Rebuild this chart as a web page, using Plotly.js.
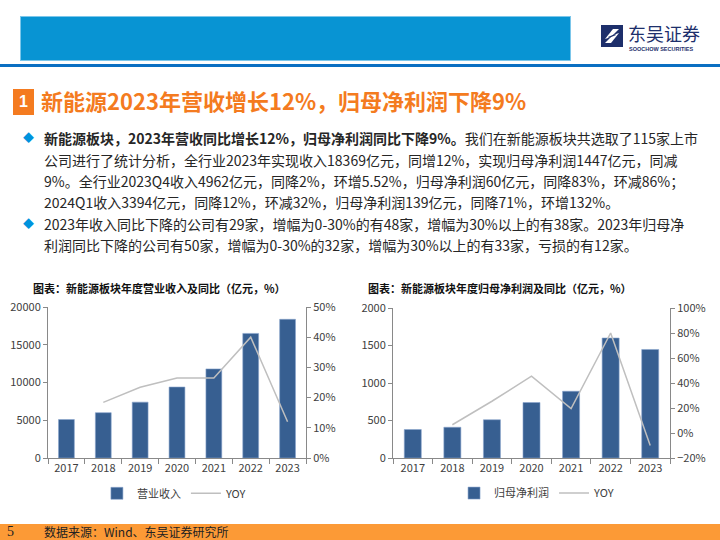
<!DOCTYPE html>
<html>
<head>
<meta charset="utf-8">
<script src="https://cdn.plot.ly/plotly-3.0.1.min.js"></script>
<style>
  body { margin: 0; width: 720px; height: 540px; overflow: hidden; background: #fff;
         position: relative; font-family: 'Noto Sans CJK SC', sans-serif; }
  .abs { position: absolute; }
  #topbar { left: 20px; top: 16px; width: 551px; height: 45px; background: #0894d3;
            border: 1px solid #7cc6ea; box-sizing: border-box; }
  #rule { left: 0; top: 64px; width: 720px; height: 3px; background: #0a6fc2; }
  #logo-cn { left: 628px; top: 24px; font-size: 18px; line-height: 18px; height: 18px; color: #1d2f6b; }
  #logo-en { left: 629px; top: 46px; font-size: 5.5px; line-height: 6px; font-weight: 700; color: #1d2f6b; font-family: 'Liberation Sans', sans-serif; }
  #num-box { left: 13px; top: 89px; width: 21px; height: 26px; background: #f47b20; color: #fff;
             font-weight: 700; font-size: 16px; text-align: center; line-height: 26px; font-family: 'Liberation Sans', sans-serif; }
  #headline { left: 41px; top: 84px; font-size: 22px; font-weight: 700; color: #f47b20; white-space: nowrap; }
  .line { left: 44px; font-size: 14px; color: #262626; white-space: nowrap; line-height: 20px; }
  .dia { left: 23px; font-size: 11px; color: #0093dd; line-height: 20px; }
  #footer { left: 0; top: 524px; width: 720px; height: 16px; background: #fc9a36; }
  #page-no { left: 7px; top: 524px; font-size: 14px; font-family: 'Liberation Serif', serif; color: #222; line-height: 16px; }
  #source { left: 44px; top: 524px; font-size: 12px; color: #222; line-height: 16px; }
  .chart { top: 275px; width: 360px; height: 245px; }
</style>
</head>
<body>
<div id="topbar" class="abs"></div>
<svg class="abs" style="left:601px;top:25px" width="22" height="22" viewBox="0 0 22 22">
  <rect x="0" y="0" width="22" height="22" fill="#1d2f6b"/>
  <path d="M4 14 L12 4 L18 4 L10 12 Z" fill="#fff"/>
  <path d="M18 8 L10 18 L4 18 L12 10 Z" fill="#fff"/>
  <path d="M7 12 L14 9 L15 10 L8 13 Z" fill="#1d2f6b"/>
</svg>
<div id="logo-cn" class="abs">东吴证券</div>
<div id="logo-en" class="abs">SOOCHOW SECURITIES</div>
<div id="rule" class="abs"></div>

<div id="num-box" class="abs">1</div>
<div id="headline" class="abs">新能源2023年营收增长12%，归母净利润下降9%</div>

<div class="abs dia" style="top:127px">◆</div>
<div class="abs line" style="top:128px"><b>新能源板块，2023年营收同比增长12%，归母净利润同比下降9%。</b>我们在新能源板块共选取了115家上市</div>
<div class="abs line" style="top:150px">公司进行了统计分析，全行业2023年实现收入18369亿元，同增12%，实现归母净利润1447亿元，同减</div>
<div class="abs line" style="top:171px">9%。全行业2023Q4收入4962亿元，同降2%，环增5.52%，归母净利润60亿元，同降83%，环减86%；</div>
<div class="abs line" style="top:192px">2024Q1收入3394亿元，同降12%，环减32%，归母净利润139亿元，同降71%，环增132%。</div>
<div class="abs dia" style="top:213px">◆</div>
<div class="abs line" style="top:214px">2023年收入同比下降的公司有29家，增幅为0-30%的有48家，增幅为30%以上的有38家。2023年归母净</div>
<div class="abs line" style="top:235px">利润同比下降的公司有50家，增幅为0-30%的32家，增幅为30%以上的有33家，亏损的有12家。</div>

<div id="chart-rev" class="abs chart" style="left:0px"></div>
<div id="chart-np" class="abs chart" style="left:360px"></div>

<div id="footer" class="abs"></div>
<div id="page-no" class="abs">5</div>
<div id="source" class="abs">数据来源：Wind、东吴证券研究所</div>

<script>
// -- Data ---------------------------------------------------------------------
const years = ['2017', '2018', '2019', '2020', '2021', '2022', '2023'];
const revenue = [5100, 6000, 7400, 9400, 11800, 16500, 18369];        // 亿元
const revenueYoy = [null, 0.184, 0.234, 0.265, 0.265, 0.40, 0.12];
const netProfit = [380, 410, 510, 740, 890, 1600, 1447];              // 亿元
const netProfitYoy = [null, 0.066, 0.254, 0.455, 0.196, 0.80, -0.10];

const BAR = '#375f91';
const LINE = '#bfbfbf';
const AXIS = '#898989';
const FONT = 'Noto Sans CJK SC, sans-serif';

// -- Layout helper --------------------------------------------------------------
function chartLayout(o) {
  const axisBase = {
    showline: true, linecolor: AXIS, linewidth: 1,
    ticks: 'outside', ticklen: 4, tickcolor: AXIS,
    showgrid: false, zeroline: false,
    tickfont: { size: 11, color: '#404040' },
  };
  return {
    width: 360, height: 245,
    paper_bgcolor: 'rgba(0,0,0,0)', plot_bgcolor: 'rgba(0,0,0,0)',
    font: { family: FONT, color: '#404040', size: 11 },
    margin: o.margin,
    title: {
      text: o.title, xref: 'container', yref: 'container',
      x: o.titleX, xanchor: 'left', y: 0.943, yanchor: 'middle',
      font: { size: 11, color: '#111', weight: 700 },
    },
    xaxis: Object.assign({}, axisBase, { type: 'category', tickson: 'boundaries', ticklen: 5 }),
    yaxis: Object.assign({}, axisBase, { range: o.y1range, dtick: o.y1dtick, tickformat: 'd' }),
    yaxis2: Object.assign({}, axisBase, {
      overlaying: 'y', side: 'right', range: o.y2range, dtick: o.y2dtick, tickformat: '.0%',
    }),
    showlegend: true,
    legend: {
      orientation: 'h', x: o.legendX, xanchor: 'center', y: -0.234, yanchor: 'middle',
      font: { size: 11, color: '#404040' }, itemwidth: 30, tracegroupgap: 0,
    },
    bargap: 0.57,
  };
}

function drawChart(id, values, yoy, barName, o) {
  const bars = {
    x: years, y: values, type: 'bar', name: barName,
    marker: { color: BAR, line: { color: '#8aa5cc', width: 0.6 } },
  };
  const line = {
    x: years, y: yoy, type: 'scatter', mode: 'lines', name: 'YOY', yaxis: 'y2',
    line: { color: LINE, width: 1.5 }, connectgaps: false,
  };
  Plotly.newPlot(id, [bars, line], chartLayout(o), { staticPlot: true, displayModeBar: false });
}

drawChart('chart-rev', revenue, revenueYoy, '营业收入', {
  title: '图表：新能源板块年度营业收入及同比（亿元，%）', titleX: 33 / 360,
  margin: { l: 48, r: 54, t: 32, b: 59 },
  y1range: [0, 20000], y1dtick: 5000, y2range: [0, 0.5], y2dtick: 0.1, legendX: 0.49,
});

drawChart('chart-np', netProfit, netProfitYoy, '归母净利润', {
  title: '图表：新能源板块年度归母净利润及同比（亿元，%）', titleX: 8 / 360,
  margin: { l: 33, r: 50, t: 33, b: 58 },
  y1range: [0, 2000], y1dtick: 500, y2range: [-0.2, 1.0], y2dtick: 0.2, legendX: 0.52,
});
</script>
</body>
</html>
